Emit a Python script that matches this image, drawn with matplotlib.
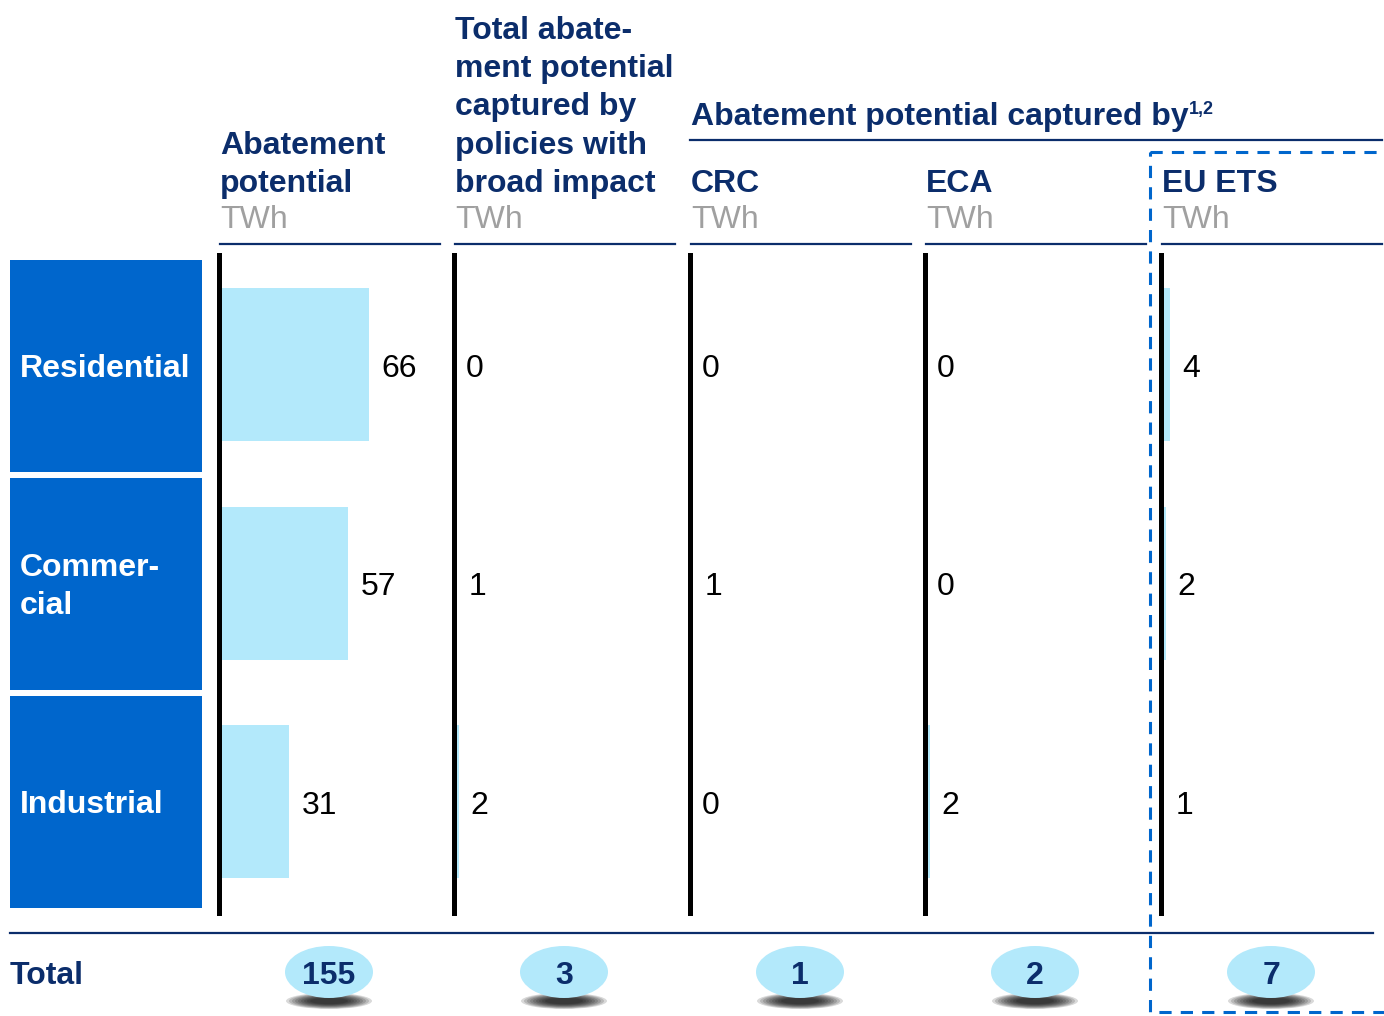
import matplotlib.pyplot as plt
from matplotlib.patches import Rectangle, Ellipse

plt.rcParams['font.family'] = ['Liberation Sans', 'DejaVu Sans']

# data
categories = ['Residential', 'Commer-\ncial', 'Industrial']
col_titles = ['Abatement\npotential',
              'Total abate-\nment potential\ncaptured by\npolicies with\nbroad impact',
              'CRC', 'ECA', 'EU ETS']
unit = 'TWh'
values = [
    [66, 57, 31],   # abatement potential
    [0, 1, 2],      # broad impact policies
    [0, 1, 0],      # CRC
    [0, 0, 2],      # ECA
    [4, 2, 1],      # EU ETS
]
totals = [155, 3, 1, 2, 7]
group_title = 'Abatement potential captured by'
group_note = '1,2'

NAVY = '#0b2d6b'
BOX = '#0066cc'
BAR = '#b3e9fb'
GRAY = '#a0a0a0'
FS = 23

W, H = 1384, 1016
fig = plt.figure(figsize=(W / 100, H / 100), dpi=100)
ax0 = fig.add_axes([0, 0, 1, 1])
ax0.set_xlim(0, W)
ax0.set_ylim(H, 0)
ax0.axis('off')

col_x = [219, 454, 690, 925, 1161]
col_w = 220
top, bottom = 255, 913
row_gap = 218.5
first_center = 364.5
px_per_unit = 2.27

# category boxes
box_tops = [260, 478, 696]
for cat, bt in zip(categories, box_tops):
    ax0.add_patch(Rectangle((10, bt), 192, 212, color=BOX, lw=0))
    ax0.text(20, bt + 109, cat, color='white', fontsize=FS, fontweight='bold',
             va='center', ha='left', linespacing=1.35)

# headers
for x, t in zip(col_x, col_titles):
    ax0.text(x + 1, 199, t, color=NAVY, fontsize=FS, fontweight='bold',
             va='bottom', ha='left', linespacing=1.36)
    ax0.text(x + 1, 235, unit, color=GRAY, fontsize=FS, va='bottom', ha='left')
    ax0.plot([x + 1, x + col_w + 1], [244, 244], color=NAVY, lw=1.6)

ax0.text(691, 132, group_title, color=NAVY, fontsize=FS, fontweight='bold',
         va='bottom', ha='left')
ax0.text(1189, 118, group_note, color=NAVY, fontsize=13, fontweight='bold',
         va='bottom', ha='left')
ax0.plot([690, 1382], [140, 140], color=NAVY, lw=1.6)

# column panels
for x, vals in zip(col_x, values):
    ax = fig.add_axes([x / W, 1 - bottom / H, col_w / W, (bottom - top) / H])
    ax.set_xlim(0, col_w / px_per_unit)
    ylo = -(first_center - top) / row_gap
    yhi = ylo + (bottom - top) / row_gap
    ax.set_ylim(yhi, ylo)
    ax.barh(range(len(vals)), vals, height=153 / row_gap, color=BAR, lw=0)
    for i, v in enumerate(vals):
        ax.annotate(str(v), (v, i), xytext=(8.8, -3), textcoords='offset points',
                    fontsize=FS, va='center', ha='left', color='black')
    for s in ['top', 'right', 'bottom']:
        ax.spines[s].set_visible(False)
    ax.spines['left'].set_linewidth(3.6)
    ax.spines['left'].set_color('black')
    ax.set_xticks([])
    ax.set_yticks([])
    ax.patch.set_alpha(0)

# total row
ax0.plot([10, 1373], [933, 933], color=NAVY, lw=1.6)
ax0.text(10, 976, 'Total', color=NAVY, fontsize=FS, fontweight='bold',
         va='center', ha='left')
for x, t in zip(col_x, totals):
    cx = x + 110
    for k in range(9):
        ax0.add_patch(Ellipse((cx, 1001), 86 - k * 6, 16 - k * 1.2,
                              color='black', alpha=0.15, lw=0))
    ax0.add_patch(Ellipse((cx, 972), 88, 52, color=BAR, lw=0))
    ax0.text(cx, 976, str(t), color=NAVY, fontsize=FS, fontweight='bold',
             va='center', ha='center')

# dashed highlight box
ax0.add_patch(Rectangle((1150, 152), 260, 860, fill=False, edgecolor=BOX,
                        lw=2.2, linestyle=(0, (4, 3))))

fig.savefig('out.png', dpi=100)
